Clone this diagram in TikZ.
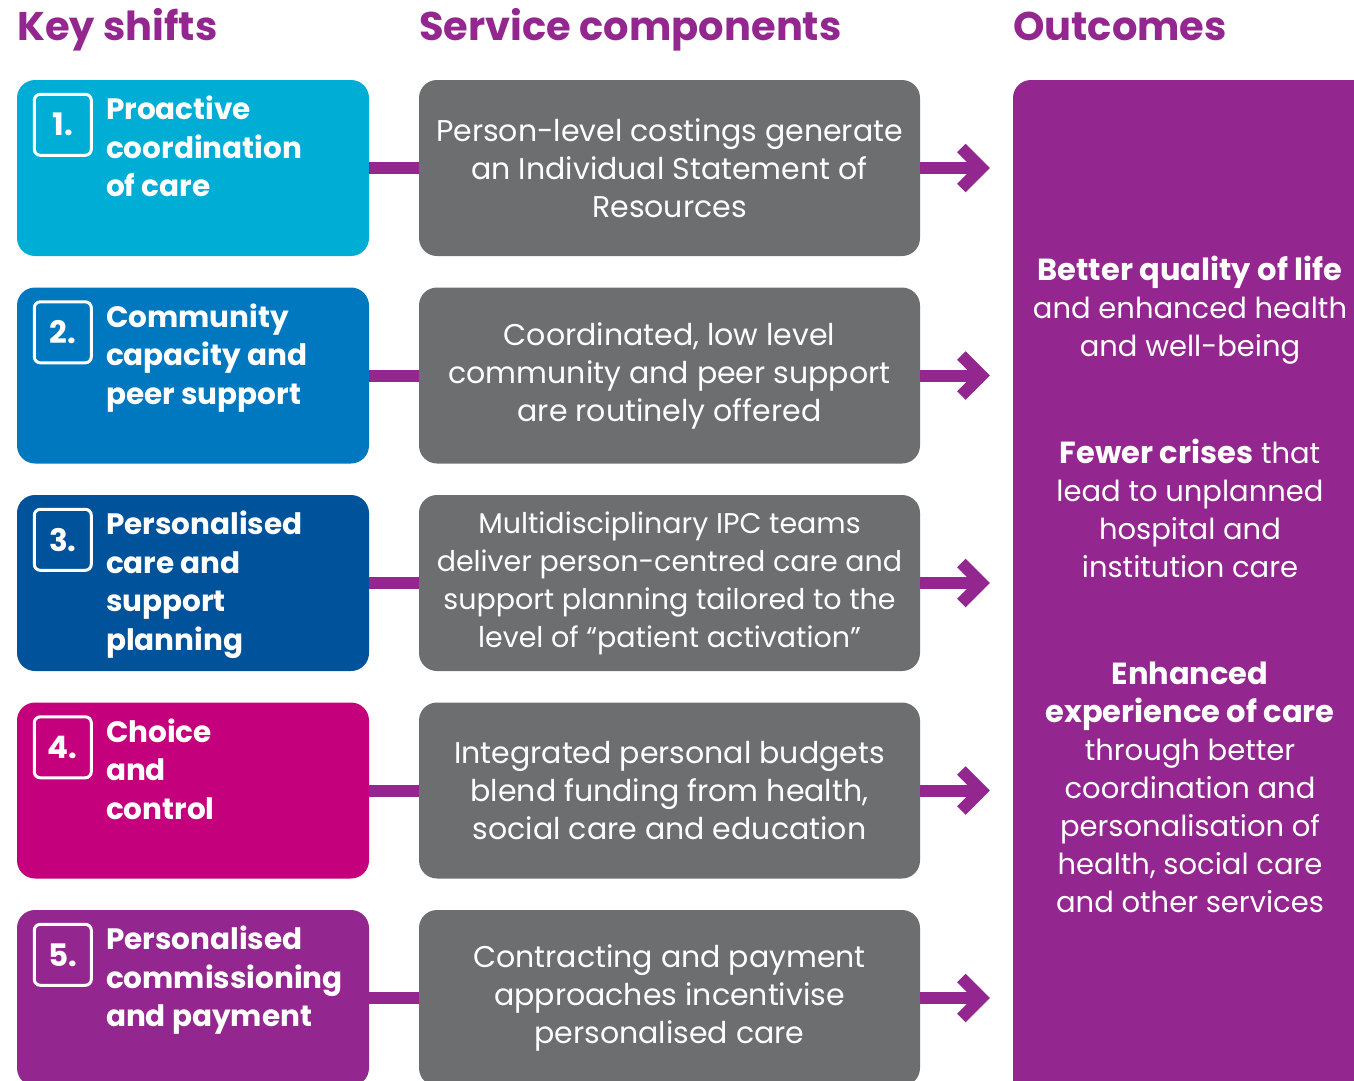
\documentclass[tikz,border=0pt]{standalone}
\usepackage{fontspec}
\setmainfont{Poppins}
\usetikzlibrary{positioning,arrows.meta}

\definecolor{ksCyan}{HTML}{00ADD4}
\definecolor{ksBlue}{HTML}{0078C0}
\definecolor{ksNavy}{HTML}{00529B}
\definecolor{ksPink}{HTML}{C4007C}
\definecolor{ksPurple}{HTML}{93278F}
\definecolor{ksGrey}{HTML}{6D6E70}

\newcommand{\outbf}[1]{{\fontsize{30.5}{38}\selectfont\bfseries #1}}

\begin{document}
\begin{tikzpicture}[x=1pt,y=-1pt,
    heading/.style={anchor=base west,inner sep=0,text=ksPurple,font=\fontsize{40}{42}\selectfont\bfseries},
    shiftbox/.style={rounded corners=18pt,minimum width=352pt,minimum height=176pt,inner sep=0},
    compbox/.style={shiftbox,fill=ksGrey,minimum width=501pt,text=white,align=center,font=\fontsize{30}{38}\selectfont},
    numbox/.style={draw=white,line width=3pt,rounded corners=6pt,minimum width=57pt,minimum height=61pt,inner sep=0,text=white,font=\fontsize{31}{31}\selectfont\bfseries},
    shifttext/.style={anchor=north west,inner sep=0,text=white,align=left,font=\fontsize{29.5}{38.5}\selectfont\bfseries},
    link/.style={ksPurple,line width=12pt},
    flow/.style={link,-{Straight Barb[length=20pt,width=40pt]},shorten >=23pt}]
    \useasboundingbox (0,0) rectangle (1354,1080);

    \node[heading] (hshift) at (17,40) {Key shifts};
    \node[heading] (hcomp) at (419,40) {Service components};
    \node[heading] (hout) at (1013,40) {Outcomes};

    % outcome column, runs off the page
    \node[fill=ksPurple,rounded corners=18pt,minimum width=367pt,minimum height=1030pt,inner sep=0] (outcomes) at (1196.5,595) {};
    \node[text=white,align=center,font=\fontsize{29}{38}\selectfont] (outtext) at (1190,584)
        {\outbf{Better quality of life}\\ and enhanced health\\ and well-being\\[69pt]
         \outbf{Fewer crises} that\\ lead to unplanned\\ hospital and\\ institution care\\[69pt]
         \outbf{Enhanced}\\ \outbf{experience of care}\\ through better\\ coordination and\\ personalisation of\\ health, social care\\ and other services};

    % row 1
    \node[shiftbox,fill=ksCyan] (shift1) at (193,168) {};
    \node[compbox] (comp1) at (669.5,168) {Person-level costings generate\\ an Individual Statement of\\ Resources};
    \node[numbox,below right=13pt and 16pt of shift1.north west] (num1) {1.};
    \node[shifttext,below right=3pt and 13pt of num1.north east] (txt1) {Proactive\\ coordination\\ of care};

    % row 2
    \node[shiftbox,fill=ksBlue] (shift2) at (193,375.5) {};
    \node[compbox] (comp2) at (669.5,375.5) {Coordinated, low level\\ community and peer support\\ are routinely offered};
    \node[numbox,below right=13pt and 16pt of shift2.north west] (num2) {2.};
    \node[shifttext,below right=3pt and 13pt of num2.north east] (txt2) {Community\\ capacity and\\ peer support};

    % row 3
    \node[shiftbox,fill=ksNavy] (shift3) at (193,583) {};
    \node[compbox,font=\fontsize{28.5}{38}\selectfont] (comp3) at (669.5,583) {Multidisciplinary IPC teams\\ deliver person-centred care and\\ support planning tailored to the\\ level of “patient activation”};
    \node[numbox,below right=13pt and 16pt of shift3.north west] (num3) {3.};
    \node[shifttext,below right=3pt and 13pt of num3.north east] (txt3) {Personalised\\ care and\\ support\\ planning};

    % row 4
    \node[shiftbox,fill=ksPink] (shift4) at (193,790.5) {};
    \node[compbox] (comp4) at (669.5,790.5) {Integrated personal budgets\\ blend funding from health,\\ social care and education};
    \node[numbox,below right=13pt and 16pt of shift4.north west] (num4) {4.};
    \node[shifttext,below right=3pt and 13pt of num4.north east] (txt4) {Choice\\ and\\ control};

    % row 5
    \node[shiftbox,fill=ksPurple] (shift5) at (193,998) {};
    \node[compbox] (comp5) at (669.5,998) {Contracting and payment\\ approaches incentivise\\ personalised care};
    \node[numbox,below right=13pt and 16pt of shift5.north west] (num5) {5.};
    \node[shifttext,below right=3pt and 13pt of num5.north east] (txt5) {Personalised\\ commissioning\\ and payment};

    \draw[link] (shift1.east) -- (comp1.west);
    \draw[link] (shift2.east) -- (comp2.west);
    \draw[link] (shift3.east) -- (comp3.west);
    \draw[link] (shift4.east) -- (comp4.west);
    \draw[link] (shift5.east) -- (comp5.west);

    \draw[flow] (comp1.east) -- (comp1.east -| outcomes.west);
    \draw[flow] (comp2.east) -- (comp2.east -| outcomes.west);
    \draw[flow] (comp3.east) -- (comp3.east -| outcomes.west);
    \draw[flow] (comp4.east) -- (comp4.east -| outcomes.west);
    \draw[flow] (comp5.east) -- (comp5.east -| outcomes.west);
\end{tikzpicture}
\end{document}
